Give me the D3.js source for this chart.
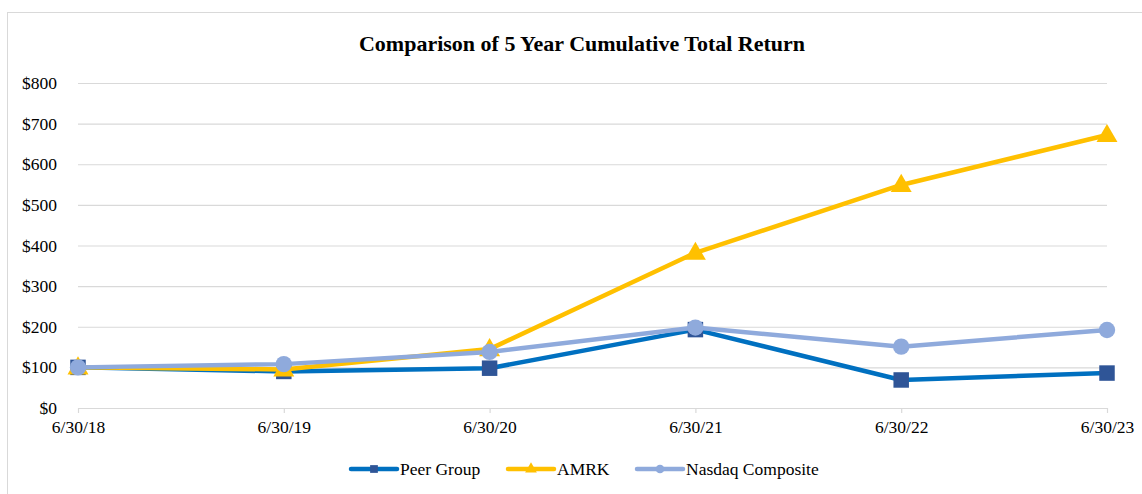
<!DOCTYPE html>
<html>
<head>
<meta charset="utf-8">
<script src="https://cdn.jsdelivr.net/npm/d3@7"></script>
<style>
  body { margin: 0; background: #fff; }
  svg { display: block; font-family: "Liberation Serif", "Times New Roman", serif; }
</style>
</head>
<body>
<div class="graphics"></div>
<script>
// data
var dates = ["6/30/18", "6/30/19", "6/30/20", "6/30/21", "6/30/22", "6/30/23"];
var peerGroup = [100, 90, 98, 193, 69, 86];
var amrk = [100, 95, 145, 382, 549, 672];
var nasdaq = [100, 108, 138, 198, 151, 192];
var yTicks = [0, 100, 200, 300, 400, 500, 600, 700, 800];

var series = [
  {name: "Peer Group", values: peerGroup, line: "#0070C0", fill: "#2F5597", shape: "square"},
  {name: "AMRK", values: amrk, line: "#FFC000", fill: "#FFC000", shape: "triangle"},
  {name: "Nasdaq Composite", values: nasdaq, line: "#8FAADC", fill: "#8FAADC", shape: "circle"}
];

var W = 1142, H = 494;
var margin = {top: 83, right: 35, bottom: 86, left: 78};
var width = W - margin.left - margin.right,
    height = H - margin.top - margin.bottom;

var svg = d3.select(".graphics")
  .append("svg")
  .attr("width", W)
  .attr("height", H);

// outer frame (runs off the right and bottom edge)
svg.append("rect")
  .attr("x", 7.5).attr("y", 12.5)
  .attr("width", 1300).attr("height", 600)
  .attr("fill", "none")
  .attr("stroke", "#d9d9d9");

svg.append("text")
  .attr("x", 582).attr("y", 51)
  .attr("text-anchor", "middle")
  .style("font-size", "22px")
  .style("font-weight", "bold")
  .text("Comparison of 5 Year Cumulative Total Return");

var g = svg.append("g")
  .attr("transform", "translate(" + margin.left + "," + margin.top + ")");

var x = d3.scalePoint().domain(dates).range([0, width]);
var y = d3.scaleLinear().domain([0, 800]).range([height, 0]);

// gridlines + y labels
var yAxis = g.append("g")
  .call(d3.axisLeft(y).tickValues(yTicks).tickSize(-width).tickFormat(function(d) { return "$" + d; }));
yAxis.select(".domain").remove();
yAxis.selectAll(".tick line").attr("stroke", "#d9d9d9").attr("stroke-width", 1.2);
yAxis.selectAll(".tick text")
  .attr("x", -21)
  .style("font-size", "17.5px")
  .style("font-family", "Liberation Serif")
  .attr("fill", "#000");

// x axis
var xAxis = g.append("g")
  .attr("transform", "translate(0," + height + ")")
  .call(d3.axisBottom(x).tickSize(5).tickSizeOuter(0));
xAxis.select(".domain").attr("stroke", "#d9d9d9").attr("stroke-width", 1.2);
xAxis.selectAll(".tick line").attr("stroke", "#d9d9d9").attr("stroke-width", 1.2);
xAxis.selectAll(".tick text")
  .attr("y", 13)
  .style("font-size", "17.5px")
  .style("font-family", "Liberation Serif")
  .attr("fill", "#000");

var line = d3.line()
  .x(function(d, i) { return x(dates[i]); })
  .y(function(d) { return y(d); });

var symbols = {
  square: d3.symbol().type(d3.symbolSquare).size(240),
  triangle: d3.symbol().type(d3.symbolTriangle).size(190),
  circle: d3.symbol().type(d3.symbolCircle).size(210)
};

series.forEach(function(s) {
  g.append("path")
    .datum(s.values)
    .attr("fill", "none")
    .attr("stroke", s.line)
    .attr("stroke-width", 4.5)
    .attr("stroke-linejoin", "round")
    .attr("d", line);

  g.selectAll(null)
    .data(s.values)
    .enter()
    .append("path")
      .attr("d", symbols[s.shape])
      .attr("transform", function(d, i) {
        var dy = s.shape === "triangle" ? 1 : 0;
        return "translate(" + x(dates[i]) + "," + (y(d) + dy) + ")";
      })
      .attr("fill", s.fill);
});

// legend
var legendX = [351, 508, 637];
var legend = svg.append("g").attr("transform", "translate(0,469)");
series.forEach(function(s, i) {
  var lg = legend.append("g").attr("transform", "translate(" + legendX[i] + ",0)");
  lg.append("line")
    .attr("x1", 0).attr("x2", 46)
    .attr("y1", 0).attr("y2", 0)
    .attr("stroke", s.line)
    .attr("stroke-width", 4.5)
    .attr("stroke-linecap", "round");
  lg.append("path")
    .attr("d", d3.symbol().type(s.shape === "square" ? d3.symbolSquare : s.shape === "triangle" ? d3.symbolTriangle : d3.symbolCircle).size(60))
    .attr("transform", "translate(23,0)")
    .attr("fill", s.fill);
  lg.append("text")
    .attr("x", 49).attr("y", 6)
    .style("font-size", "17.5px")
    .text(s.name);
});
</script>
</body>
</html>
